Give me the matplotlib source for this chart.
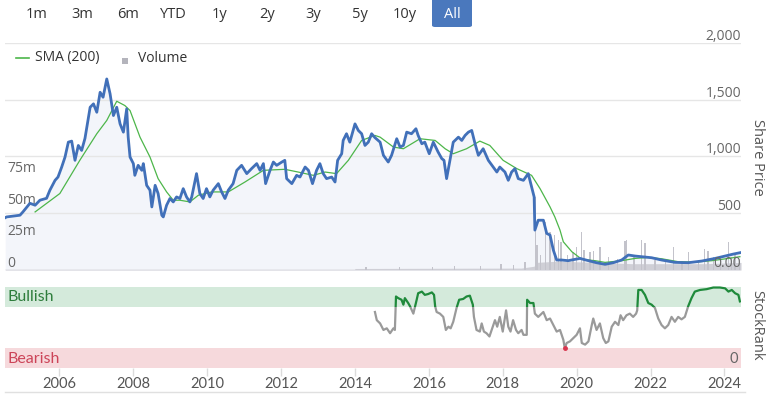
import matplotlib
matplotlib.use('Agg')
import matplotlib.pyplot as plt
from matplotlib.patches import FancyBboxPatch, Rectangle
from matplotlib.lines import Line2D
import matplotlib.transforms as mtransforms
import numpy as np

# ---------------- data ----------------
price_years = [2004.53, 2004.57, 2004.93, 2005.01, 2005.20, 2005.34, 2005.47, 2005.65, 2005.74, 2005.88, 2005.96,
               2006.06, 2006.15, 2006.24, 2006.33, 2006.42, 2006.51, 2006.60, 2006.69, 2006.83, 2006.92,
               2007.01, 2007.10, 2007.18, 2007.28, 2007.37, 2007.46, 2007.55, 2007.64, 2007.73, 2007.82,
               2007.86, 2007.91, 2008.00, 2008.04, 2008.13, 2008.23, 2008.27, 2008.36, 2008.45, 2008.50,
               2008.59, 2008.67, 2008.77, 2008.81, 2008.90, 2008.99, 2009.08, 2009.17, 2009.26, 2009.35,
               2009.44, 2009.53, 2009.58, 2009.71, 2009.80, 2009.89, 2009.98, 2010.07, 2010.16, 2010.30,
               2010.39, 2010.48, 2010.57, 2010.70, 2010.80, 2010.93, 2011.07, 2011.20, 2011.34, 2011.43,
               2011.52, 2011.58, 2011.70, 2011.79, 2011.88, 2012.02, 2012.10, 2012.15, 2012.29, 2012.42,
               2012.51, 2012.65, 2012.74, 2012.85, 2012.96, 2013.05, 2013.14, 2013.23, 2013.37, 2013.46,
               2013.53, 2013.64, 2013.68, 2013.77, 2013.86, 2014.00, 2014.09, 2014.18, 2014.27, 2014.36,
               2014.45, 2014.54, 2014.68, 2014.77, 2014.90, 2014.99, 2015.13, 2015.22, 2015.31, 2015.40,
               2015.53, 2015.65, 2015.71, 2015.81, 2015.89, 2016.01, 2016.12, 2016.25, 2016.35, 2016.41,
               2016.48, 2016.57, 2016.66, 2016.80, 2016.89, 2016.98, 2017.07, 2017.16, 2017.25, 2017.34,
               2017.47, 2017.61, 2017.74, 2017.84, 2017.92, 2018.06, 2018.15, 2018.24, 2018.33, 2018.42,
               2018.56, 2018.69, 2018.78, 2018.85, 2018.87, 2018.96, 2019.10, 2019.19, 2019.28, 2019.37,
               2019.46, 2019.59, 2019.77, 2019.96, 2020.09, 2020.32, 2020.54, 2020.77, 2020.99, 2021.22,
               2021.40, 2021.58, 2021.76, 2022.03, 2022.30, 2022.66, 2023.02, 2023.39, 2023.75, 2024.02,
               2024.24, 2024.42]
price_values = [460, 467, 482, 511, 587, 570, 614, 631, 702, 789, 818,
                906, 994, 1125, 1134, 965, 1096, 1052, 1158, 1432, 1462,
                1388, 1564, 1520, 1681, 1550, 1359, 1432, 1286, 1213, 1418,
                1169, 994, 936, 833, 921, 877, 936, 745, 702, 555,
                745, 673, 482, 467, 570, 629, 599, 643, 629, 716,
                643, 599, 643, 848, 673, 629, 716, 643, 702, 760,
                687, 629, 702, 760, 877, 921, 848, 892, 936, 877,
                936, 760, 877, 950, 921, 950, 965, 804, 760, 833,
                818, 906, 877, 760, 877, 936, 848, 804, 818, 774,
                965, 1023, 1140, 1199, 1125, 1286, 1228, 1199, 1096, 1125,
                1199, 1165, 1125, 1009, 950, 1009, 1155, 1082, 1096, 1213,
                1199, 1243, 1184, 1111, 1125, 1023, 1125, 1038, 980, 965,
                804, 965, 1125, 1169, 1140, 1184, 1213, 1228, 1111, 1009,
                1067, 965, 906, 862, 906, 862, 789, 862, 892, 804,
                789, 848, 731, 643, 351, 438, 438, 322, 307, 175,
                88, 88, 82, 94, 102, 82, 64, 50, 64, 88,
                132, 123, 117, 108, 88, 67, 64, 79, 102, 123,
                140, 152]

sma_years = [2005.34, 2006.01, 2006.55, 2007.01, 2007.28, 2007.55, 2007.77, 2007.91, 2008.18, 2008.45,
             2008.67, 2008.90, 2009.08, 2009.26, 2009.53, 2009.76, 2010.12, 2010.57, 2011.02, 2011.52,
             2012.10, 2012.46, 2012.87, 2013.19, 2013.50, 2013.82, 2014.18, 2014.54, 2014.68, 2015.04,
             2015.31, 2015.76, 2016.17, 2016.44, 2016.66, 2017.02, 2017.38, 2017.65, 2018.01, 2018.38,
             2018.78, 2019.01, 2019.28, 2019.41, 2019.55, 2019.64, 2019.87, 2020.14, 2020.50, 2020.77,
             2021.22, 2021.58, 2021.94, 2022.30, 2022.75, 2023.20, 2023.66, 2024.11, 2024.42]
sma_values = [511, 673, 965, 1199, 1316, 1485, 1447, 1403, 1169, 994,
              804, 687, 614, 614, 599, 658, 687, 687, 774, 877,
              886, 862, 833, 862, 848, 965, 1140, 1184, 1169, 1082,
              1067, 1155, 1140, 1067, 1023, 1067, 1134, 1096, 965, 892,
              833, 716, 555, 467, 351, 248, 161, 94, 82, 67,
              82, 102, 111, 99, 73, 70, 82, 102, 117]

# volume (millions): a low background level and the visible spikes
vol_base_years = [2004.53, 2013.99, 2014.0, 2018.5, 2018.85, 2018.9, 2019.5, 2020.5, 2021.5, 2022.5, 2023.5, 2024.45]
vol_base_m = [0.6, 0.6, 1.2, 1.5, 3, 6, 7, 6, 5, 5, 5, 6]
vol_spike_years = [2014.30, 2015.20, 2016.10, 2016.70, 2017.40, 2017.95, 2018.30, 2018.60, 2018.89, 2018.93,
                   2019.03, 2019.16, 2019.28, 2019.41, 2019.50, 2019.58, 2019.75, 2019.90, 2020.00, 2020.14,
                   2020.20, 2020.36, 2020.45, 2020.63, 2020.86, 2021.10, 2021.31, 2021.35, 2021.55, 2021.76,
                   2021.85, 2022.12, 2022.40, 2022.62, 2022.85, 2023.02, 2023.30, 2023.47, 2023.56, 2023.70,
                   2023.90, 2024.11, 2024.20, 2024.29, 2024.40]
vol_spike_m = [2.5, 2, 2.5, 3, 3, 5, 4, 6, 58, 20,
               12, 38, 30, 28, 24, 22, 12, 14, 18, 30,
               16, 14, 15, 18, 10, 9, 23, 24, 10, 24,
               21, 8, 9, 18, 7, 14, 8, 17, 15, 10,
               9, 22, 10, 12, 9]

rank_years = [2014.54, 2014.59, 2014.68, 2014.77, 2014.86, 2014.95, 2015.04, 2015.08, 2015.11, 2015.17,
              2015.26, 2015.31, 2015.35, 2015.44, 2015.49, 2015.58, 2015.67, 2015.71, 2015.81, 2015.89,
              2015.98, 2016.08, 2016.14, 2016.17, 2016.21, 2016.30, 2016.39, 2016.46, 2016.53, 2016.59,
              2016.66, 2016.75, 2016.82, 2016.93, 2017.02, 2017.11, 2017.19, 2017.22, 2017.29, 2017.38,
              2017.43, 2017.49, 2017.56, 2017.64, 2017.70, 2017.79, 2017.85, 2017.92, 2018.00, 2018.09,
              2018.15, 2018.21, 2018.28, 2018.36, 2018.42, 2018.51, 2018.56, 2018.65, 2018.66, 2018.74,
              2018.83, 2018.87, 2018.96, 2019.10, 2019.19, 2019.28, 2019.37, 2019.46, 2019.55, 2019.64,
              2019.68, 2019.73, 2019.82, 2019.91, 2020.00, 2020.09, 2020.14, 2020.23, 2020.32, 2020.41,
              2020.45, 2020.54, 2020.63, 2020.72, 2020.79, 2020.86, 2020.95, 2021.04, 2021.13, 2021.19,
              2021.26, 2021.35, 2021.44, 2021.53, 2021.61, 2021.64, 2021.67, 2021.76, 2021.85, 2021.94,
              2022.03, 2022.12, 2022.21, 2022.30, 2022.39, 2022.48, 2022.57, 2022.66, 2022.75, 2022.84,
              2022.93, 2023.02, 2023.11, 2023.20, 2023.34, 2023.52, 2023.70, 2023.88, 2024.02, 2024.11,
              2024.20, 2024.29, 2024.38, 2024.42]
rank_values = [69, 59, 55, 47, 49, 43, 49, 47, 88, 86,
               84, 78, 86, 80, 76, 67, 84, 92, 94, 90,
               91, 93, 90, 76, 69, 67, 63, 47, 51, 49,
               57, 74, 84, 85, 88, 89, 78, 63, 47, 45,
               55, 45, 43, 39, 47, 59, 51, 63, 45, 71,
               51, 45, 59, 47, 43, 47, 41, 41, 84, 80,
               80, 67, 63, 69, 59, 61, 53, 45, 47, 35,
               24.5, 31, 33, 37, 41, 49, 31, 29, 33, 53,
               61, 47, 55, 37, 31, 33, 51, 57, 53, 65,
               59, 65, 67, 63, 67, 71, 96, 96, 90, 80,
               78, 74, 61, 53, 49, 53, 63, 57, 63, 60,
               63, 76, 86, 94, 96, 97, 99, 99, 98, 94,
               96, 92, 90, 82]

year_ticks = [2006, 2008, 2010, 2012, 2014, 2016, 2018, 2020, 2022, 2024]
price_ticks = [0, 500, 1000, 1500, 2000]
price_tick_labels = ['0.00', '500', '1,000', '1,500', '2,000']
vol_ticks_m = [0, 25, 50, 75]
vol_tick_labels = ['0', '25m', '50m', '75m']
range_buttons = ['1m', '3m', '6m', 'YTD', '1y', '2y', '3y', '5y', '10y', 'All']
active_button = 'All'
bull_band = (75.5, 100)
bear_band = (0, 24.5)

# ---------------- layout ----------------
W, H = 769, 394
fig = plt.figure(figsize=(W / 100, H / 100), dpi=100)
FONT = ['Open Sans', 'DejaVu Sans']
NARROW = ['Lato', 'DejaVu Sans']
plt.rcParams['font.family'] = FONT


def rect(x0, y0, x1, y1):
    return [x0 / W, 1 - y1 / H, (x1 - x0) / W, (y1 - y0) / H]


XMIN, XMAX = 2004.525, 2024.45
main_rect = rect(5, 42.7, 741, 270)

ax_bg = fig.add_axes(main_rect, zorder=1)
ax_v = fig.add_axes(main_rect, zorder=2)
ax_p = fig.add_axes(main_rect, zorder=3)
for a in (ax_bg, ax_v, ax_p):
    a.set_xlim(XMIN, XMAX)
    a.patch.set_alpha(0)
    for s in a.spines.values():
        s.set_visible(False)
    a.tick_params(left=False, bottom=False, labelleft=False, labelbottom=False)
ax_bg.set_ylim(0, 2000)
ax_p.set_ylim(0, 2000)
ax_v.set_ylim(0, 180)

ax_bg.set_yticks(price_ticks)
ax_bg.set_xticks([])
ax_bg.grid(axis='y', color='#e6e6e6', linewidth=1)
ax_bg.fill_between(price_years, price_values, 0, color='#f3f5fa', linewidth=0)

# volume
ax_v.fill_between(vol_base_years, vol_base_m, 0, color='#cfcfd6', linewidth=0)
ax_v.bar(vol_spike_years, vol_spike_m, width=0.035, color='#c3c3cb', linewidth=0)
ax_v.set_xticks([])

# price + SMA
ax_p.plot(sma_years, sma_values, color='#4db64a', linewidth=0.9, zorder=3)
ax_p.plot(price_years, price_values, color='#4170b9', linewidth=2.0, zorder=4,
          solid_joinstyle='round')
ax_p.set_xticks([])

# right axis labels (share price)
tr_right = mtransforms.blended_transform_factory(ax_p.transAxes, ax_p.transData)
off_up = mtransforms.ScaledTranslation(0, -1 / 100, fig.dpi_scale_trans)
for v, lab in zip(price_ticks, price_tick_labels):
    ax_p.text(1.0, v, lab, transform=tr_right + off_up, ha='right', va='bottom',
              fontsize=10, color='#666666', zorder=6)

# left axis labels (volume)
tr_left = mtransforms.blended_transform_factory(ax_v.transAxes, ax_v.transData)
for v, lab in zip(vol_ticks_m, vol_tick_labels):
    ax_v.text(0.003, v, lab, transform=tr_left + off_up, ha='left', va='bottom',
              fontsize=10, color='#666666')

fig.text(757 / W, 1 - 157 / H, 'Share Price', rotation=270, ha='center', va='center',
         fontsize=10.5, color='#555555')

# ---------------- StockRank panel ----------------
ax_r = fig.add_axes(rect(5, 286.7, 741, 368.3))
ax_r.set_xlim(XMIN, XMAX)
ax_r.set_ylim(0, 100)
for s in ax_r.spines.values():
    s.set_visible(False)
ax_r.axhspan(*bull_band, color='#d4eadb', linewidth=0, zorder=0)
ax_r.axhspan(*bear_band, color='#f6d9dc', linewidth=0, zorder=0)

ry = np.array(rank_years)
rv = np.array(rank_values)
clip_mid = Rectangle((XMIN, bear_band[1]), XMAX - XMIN, bull_band[0] - bear_band[1],
                     transform=ax_r.transData)
clip_top = Rectangle((XMIN, bull_band[0]), XMAX - XMIN, 30, transform=ax_r.transData)
l1, = ax_r.plot(ry, rv, color='#9a9a9a', linewidth=1.6, zorder=2, solid_joinstyle='round')
l1.set_clip_path(clip_mid)
l2, = ax_r.plot(ry, rv, color='#1f8a3b', linewidth=1.6, zorder=3, solid_joinstyle='round')
l2.set_clip_path(clip_top)
low = np.where(rv <= bear_band[1], rv, np.nan)
ax_r.plot(ry, low, 'o', color='#d9364f', markersize=2.5, zorder=4)

ax_r.set_yticks([])
ax_r.set_xticks(year_ticks)
ax_r.set_xticklabels([str(y) for y in year_ticks])
ax_r.tick_params(axis='x', length=5.5, width=1, color='#dcdcdc', labelsize=10.5,
                 labelcolor='#555555', pad=1)
for t in ax_r.get_xticklabels():
    t.set_family(NARROW)

tr_r = mtransforms.blended_transform_factory(ax_r.transAxes, ax_r.transData)
ax_r.text(0.004, 87.7, 'Bullish', transform=tr_r,
          ha='left', va='center', fontsize=11.5, color='#2e7d3c', family=NARROW)
ax_r.text(0.004, 11, 'Bearish', transform=tr_r,
          ha='left', va='center', fontsize=11.5, color='#cc4458', family=NARROW)
ax_r.text(0.996, 11, '0', transform=tr_r,
          ha='right', va='center', fontsize=10.5, color='#666666', family=NARROW)

fig.text(757 / W, 1 - 325 / H, 'StockRank', rotation=270, ha='center', va='center',
         fontsize=10.5, color='#555555')

# bottom border line
fig.add_artist(Line2D([5 / W, 745 / W], [1 - 392 / H, 1 - 392 / H], color='#e0e0e0', linewidth=1))

# ---------------- legend ----------------
fig.add_artist(Line2D([16 / W, 29 / W], [1 - 58 / H, 1 - 58 / H], color='#4db64a', linewidth=1.2))
fig.text(35 / W, 1 - 58 / H, 'SMA (200)', ha='left', va='center', fontsize=10, color='#333333')
fig.add_artist(Rectangle((122 / W, 1 - 64 / H), 6 / W, 6 / H, transform=fig.transFigure,
                         color='#b4b4bc', linewidth=0))
fig.text(138 / W, 1 - 58 / H, 'Volume', ha='left', va='center', fontsize=10, color='#333333')

# ---------------- range selector buttons ----------------
btn_x = [37, 82, 128, 173, 220, 267, 313, 360, 405, 452]
for lab, bx in zip(range_buttons, btn_x):
    if lab == active_button:
        fig.add_artist(FancyBboxPatch((432 / W, 1 - 27 / H), 40 / W, 30 / H,
                                      boxstyle='round,pad=0,rounding_size=0.004',
                                      transform=fig.transFigure, facecolor='#4a78bd',
                                      edgecolor='none'))
        fig.text(bx / W, 1 - 14 / H, lab, ha='center', va='center', fontsize=10.5, color='white')
    else:
        fig.text(bx / W, 1 - 14 / H, lab, ha='center', va='center', fontsize=10.5, color='#333333')

fig.savefig('out.png', dpi=100)
